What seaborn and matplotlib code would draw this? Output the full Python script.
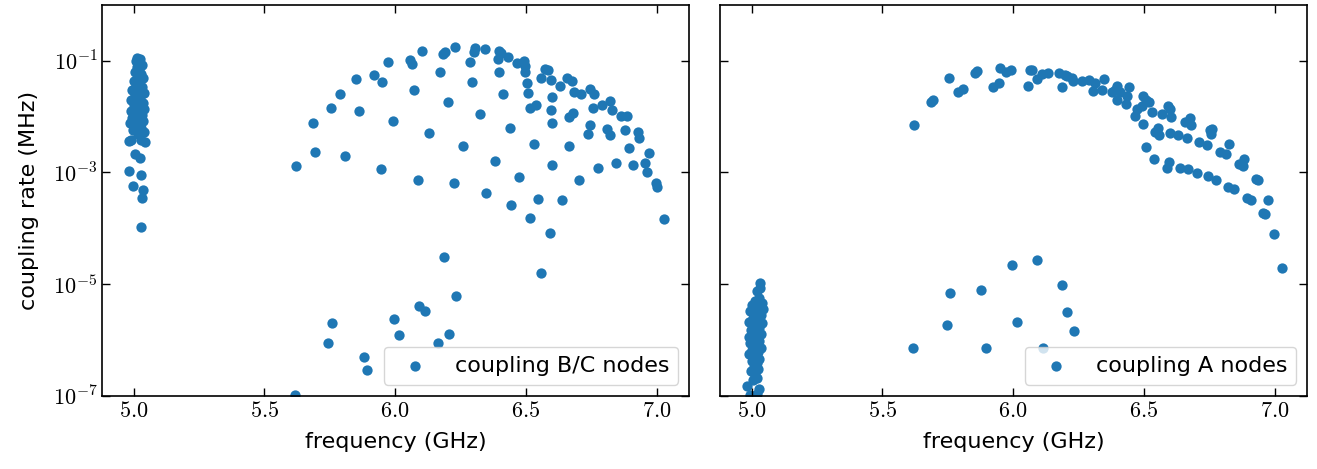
import matplotlib
matplotlib.use("Agg")
import matplotlib.pyplot as plt
import matplotlib.ticker as mticker
import numpy as np
import pandas as pd
import seaborn as sns

plt.rcParams['mathtext.fontset'] = 'cm'
plt.rcParams['font.family'] = ['DejaVu Sans']

# ---- B/C nodes (left panel) : frequency in GHz, log10 of coupling rate in MHz
bc_band5_freq = [5.014, 5.025, 5.010, 5.020, 5.030, 5.012, 5.022, 5.005, 5.028, 5.015,
                 5.035, 5.000, 5.020, 5.010, 5.030, 4.995, 5.018, 5.038, 5.005, 5.025,
                 4.990, 5.015, 5.035, 5.000, 5.022, 5.040, 4.988, 5.010, 5.030, 4.995,
                 5.018, 5.036, 4.985, 5.008, 5.028, 4.998, 5.040, 5.015, 4.991, 5.029,
                 4.981, 5.042, 5.004, 5.023, 4.981, 5.029, 4.997, 5.036, 5.032, 5.029]
bc_band5_log = [-0.95, -0.97, -1.00, -1.04, -1.08, -1.12, -1.15, -1.20, -1.24, -1.28,
                -1.31, -1.36, -1.40, -1.45, -1.48, -1.52, -1.55, -1.58, -1.62, -1.66,
                -1.70, -1.72, -1.76, -1.80, -1.84, -1.87, -1.90, -1.94, -1.97, -2.02,
                -2.05, -2.08, -2.12, -2.15, -2.20, -2.25, -2.28, -2.32, -2.42, -2.42,
                -2.44, -2.46, -2.68, -2.74, -2.98, -3.04, -3.25, -3.31, -3.46, -3.97]

bc_arc_freq = [5.619, 5.684, 5.693, 5.753, 5.790, 5.808, 5.851, 5.860, 5.920, 5.944,
               5.950, 5.972, 5.991, 6.057, 6.063, 6.070, 6.088, 6.103, 6.129, 6.173,
               6.182, 6.189, 6.201, 6.226, 6.229, 6.261, 6.286, 6.293, 6.301, 6.306,
               6.326, 6.342, 6.347, 6.380, 6.395, 6.394, 6.396, 6.404, 6.412, 6.432,
               6.438, 6.444, 6.464, 6.475, 6.492, 6.496, 6.498, 6.502, 6.507, 6.514,
               6.514, 6.530, 6.540, 6.546, 6.556, 6.571, 6.585, 6.590, 6.594, 6.595,
               6.598, 6.600, 6.600, 6.631, 6.639, 6.656, 6.664, 6.665, 6.677, 6.679,
               6.683, 6.702, 6.712, 6.738, 6.743, 6.746, 6.756, 6.760, 6.774, 6.791,
               6.811, 6.821, 6.823, 6.827, 6.845, 6.864, 6.877, 6.886, 6.895, 6.909,
               6.927, 6.932, 6.955, 6.961, 6.972, 6.998, 7.002, 7.026]
bc_arc_log = [-2.88, -2.11, -2.63, -1.84, -1.60, -2.71, -1.33, -1.90, -1.25, -2.94,
              -1.38, -1.02, -2.08, -0.99, -1.07, -1.53, -3.13, -0.83, -2.29, -1.21,
              -0.88, -0.84, -1.74, -3.20, -0.76, -2.53, -1.03, -1.38, -0.84, -0.78,
              -1.95, -0.79, -3.37, -2.79, -0.83, -0.98, -1.20, -0.87, -1.60, -0.93,
              -2.20, -3.59, -1.05, -3.09, -1.01, -1.10, -1.21, -1.41, -1.58, -3.82,
              -1.84, -2.49, -1.80, -3.47, -1.32, -1.15, -1.17, -4.08, -1.34, -1.88,
              -2.86, -1.65, -2.12, -1.45, -3.49, -1.31, -2.01, -2.52, -1.36, -1.93,
              -1.57, -3.13, -1.60, -2.31, -1.50, -2.16, -1.85, -1.60, -2.93, -1.79,
              -2.22, -1.72, -2.34, -1.88, -2.84, -2.00, -2.25, -2.00, -2.57, -2.86,
              -2.28, -2.38, -2.83, -3.00, -2.65, -3.20, -3.27, -3.83]

bc_low_freq = [6.185, 6.556, 6.231, 6.092, 6.115, 5.995, 5.758, 6.016, 6.205, 5.744,
               6.162, 5.879, 5.893, 5.617]
bc_low_log = [-4.52, -4.80, -5.22, -5.40, -5.49, -5.63, -5.70, -5.91, -5.89, -6.06,
              -6.06, -6.31, -6.53, -6.98]

# ---- A nodes (right panel)
a_band5_freq = [5.032, 5.034, 5.022, 5.030, 5.012, 5.040, 5.000, 5.025, 5.045, 4.995,
                5.015, 5.035, 5.005, 5.025, 4.990, 5.040, 5.012, 5.030, 4.998, 5.020,
                5.038, 4.992, 5.010, 5.030, 4.995, 5.018, 5.035, 5.002, 5.025, 4.990,
                5.012, 5.030, 5.000, 5.020, 5.008, 5.025, 4.998, 5.015, 5.022, 5.005,
                4.984, 5.028, 4.996, 5.020]
a_band5_log = [-4.98, -5.07, -5.13, -5.25, -5.30, -5.33, -5.38, -5.40, -5.44, -5.48,
               -5.50, -5.55, -5.60, -5.63, -5.68, -5.70, -5.74, -5.78, -5.82, -5.86,
               -5.90, -5.94, -5.98, -6.02, -6.06, -6.10, -6.14, -6.18, -6.22, -6.26,
               -6.30, -6.34, -6.38, -6.42, -6.48, -6.52, -6.56, -6.62, -6.68, -6.72,
               -6.82, -6.88, -6.99, -6.97]

a_arc_freq = [5.621, 5.686, 5.694, 5.755, 5.790, 5.808, 5.853, 5.863, 5.922, 5.946,
              5.951, 5.974, 5.993, 6.059, 6.063, 6.074, 6.091, 6.110, 6.132, 6.174,
              6.189, 6.197, 6.206, 6.227, 6.231, 6.262, 6.291, 6.304, 6.315, 6.340,
              6.348, 6.379, 6.390, 6.396, 6.399, 6.409, 6.432, 6.435, 6.444, 6.466,
              6.475, 6.492, 6.498, 6.498, 6.507, 6.519, 6.508, 6.530, 6.539, 6.544,
              6.556, 6.557, 6.571, 6.590, 6.594, 6.595, 6.599, 6.600, 6.603, 6.632,
              6.640, 6.656, 6.666, 6.669, 6.676, 6.682, 6.703, 6.711, 6.740, 6.746,
              6.753, 6.759, 6.757, 6.776, 6.791, 6.814, 6.822, 6.825, 6.846, 6.865,
              6.878, 6.885, 6.895, 6.909, 6.929, 6.935, 6.954, 6.963, 6.973, 6.999,
              7.027]
a_arc_log = [-2.16, -1.74, -1.71, -1.32, -1.56, -1.51, -1.22, -1.19, -1.48, -1.40,
             -1.14, -1.20, -1.17, -1.45, -1.16, -1.17, -1.33, -1.24, -1.23, -1.23,
             -1.47, -1.26, -1.27, -1.31, -1.37, -1.36, -1.34, -1.54, -1.40, -1.53,
             -1.33, -1.57, -1.52, -1.46, -1.70, -1.56, -1.77, -1.64, -1.48, -1.99,
             -1.87, -1.82, -1.63, -2.14, -1.70, -1.75, -2.54, -1.92, -2.76, -2.27,
             -2.21, -2.34, -1.95, -2.92, -1.81, -2.82, -1.87, -2.30, -2.01, -2.34,
             -2.92, -2.10, -2.39, -2.94, -2.02, -2.15, -3.01, -2.46, -2.51, -3.06,
             -2.25, -2.23, -2.31, -3.13, -2.64, -2.67, -3.26, -2.49, -3.29, -2.85,
             -2.88, -2.76, -3.46, -3.50, -3.12, -3.14, -3.73, -3.75, -3.50, -4.11,
             -4.72]

a_low_freq = [5.760, 5.879, 5.997, 6.093, 6.188, 5.746, 6.017, 5.619, 5.896, 6.116,
              6.207, 6.234]
a_low_log = [-5.16, -5.11, -4.66, -4.57, -5.01, -5.73, -5.67, -6.14, -6.15, -6.14,
             -5.50, -5.84]

bc = pd.DataFrame({'freq': bc_band5_freq + bc_arc_freq + bc_low_freq,
                   'rate': 10.0 ** np.array(bc_band5_log + bc_arc_log + bc_low_log)})
a = pd.DataFrame({'freq': a_band5_freq + a_arc_freq + a_low_freq,
                  'rate': 10.0 ** np.array(a_band5_log + a_arc_log + a_low_log)})

fig, axes = plt.subplots(1, 2, figsize=(13.17, 4.69), dpi=100, sharey=True)
plt.subplots_adjust(left=0.0777, right=0.9926, bottom=0.156, top=0.990, wspace=0.0523)

panels = [(bc, 'coupling B/C nodes'), (a, 'coupling A nodes')]
for ax, (df, lab) in zip(axes, panels):
    sns.scatterplot(data=df, x='freq', y='rate', ax=ax, color='#1f77b4',
                    s=55, linewidth=0, label=lab)
    ax.set_yscale('log')
    ax.set_ylim(1e-7, 1e0)
    ax.set_xlim(4.88, 7.125)
    ax.set_xticks([5.0, 5.5, 6.0, 6.5, 7.0])
    ax.xaxis.set_major_formatter(mticker.FuncFormatter(lambda v, p: r'$%.1f$' % v))
    ax.set_yticks([1e-7, 1e-5, 1e-3, 1e-1])
    ax.yaxis.set_minor_locator(mticker.NullLocator())
    ax.yaxis.set_major_formatter(mticker.FuncFormatter(
        lambda v, p: r'$10^{%d}$' % int(round(np.log10(v)))))
    ax.tick_params(which='both', direction='in', top=True, right=True,
                   length=5.5, width=1.0, labelsize=16)
    for sp in ax.spines.values():
        sp.set_linewidth(1.2)
    ax.set_xlabel('frequency (GHz)', fontsize=16, labelpad=8)
    ax.set_ylabel('')
    ax.legend(loc='lower right', fontsize=16, markerscale=1.0)

axes[0].set_ylabel('coupling rate (MHz)', fontsize=16, labelpad=10)
axes[1].tick_params(labelleft=False)

plt.savefig('out.png', dpi=100)
